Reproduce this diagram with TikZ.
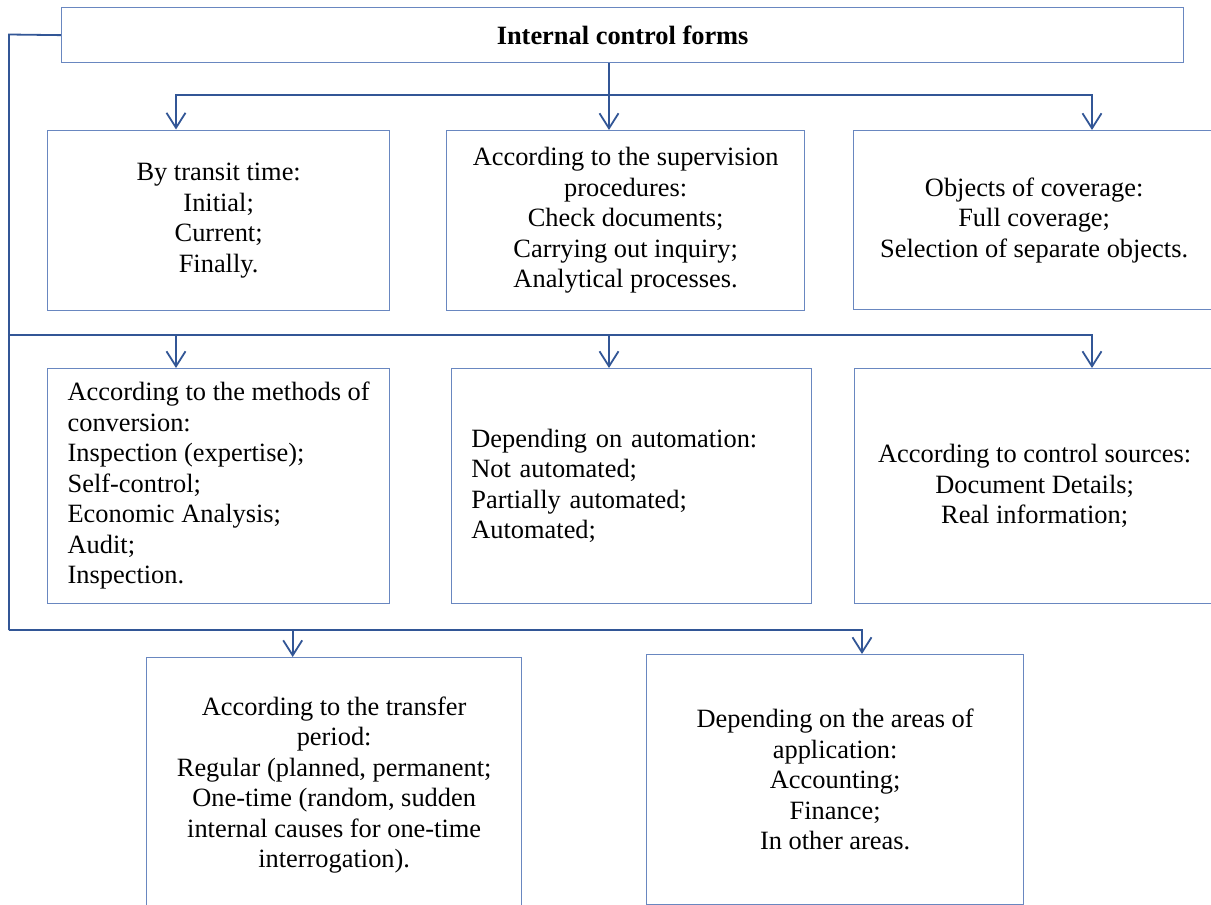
\documentclass[tikz,border=0pt]{standalone}
\usepackage{fontspec}
\setmainfont{Liberation Serif}
\usetikzlibrary{arrows.meta}
\definecolor{conncol}{RGB}{50,86,150}
\definecolor{boxcol}{RGB}{105,135,192}
\newcommand\fs{\fontsize{26.4}{30.5}\selectfont}
\tikzset{
  box/.style={draw=boxcol, line width=1.3pt, inner sep=0pt, anchor=north west, font=\fs, align=center, text=black},
  conn/.style={draw=conncol, line width=1.8pt, line join=miter},
  arr/.style={conn, -{Straight Barb[length=15pt,width=19pt,line width=1.8pt]}},
}
\begin{document}
\begin{tikzpicture}[x=1pt,y=-1pt]
\useasboundingbox (0,0) rectangle (1211,905);
\clip (0,0) rectangle (1211,905);

\node[box, minimum width=1122, minimum height=55] (top) at (61,7) {\bfseries Internal control forms};

\node[box, minimum width=342, minimum height=180.5] (b1) at (47,129.5)
  {By transit time:\\Initial;\\Current;\\Finally.};
\node[box, minimum width=358, minimum height=180] (b2) at (446,130)
  {According to the supervision\\procedures:\\Check documents;\\Carrying out inquiry;\\Analytical processes.};
\node[box, minimum width=361, minimum height=179] (b3) at (853,130)
  {Objects of coverage:\\Full coverage;\\Selection of separate objects.};

\node[box, align=left, minimum width=342, minimum height=234.5] (b4) at (47,368)
  {According to the methods of\\conversion:\\Inspection (expertise);\\Self-control;\\Economic Analysis;\\Audit;\\Inspection.};
\node[box, align=left, text width=320.6, inner xsep=19.7pt, minimum height=234.5] (b5) at (451,368)
  {Depending on automation:\\Not automated;\\Partially automated;\\Automated;};
\node[box, minimum width=360, minimum height=234.5] (b6) at (854,368)
  {According to control sources:\\Document Details;\\Real information;};

\node[box, minimum width=375, minimum height=255] (b7) at (146,657)
  {According to the transfer\\period:\\Regular (planned, permanent;\\One-time (random, sudden\\internal causes for one-time\\interrogation).};
\node[box, minimum width=377, minimum height=250] (b8) at (646,654)
  {Depending on the areas of\\application:\\Accounting;\\Finance;\\In other areas.};

% coordinates of the buses
\coordinate (t1) at (176,95);
\coordinate (t2) at (609,95);
\coordinate (t3) at (1092,95);
\coordinate (L1) at (9,34.5);
\coordinate (Lm) at (9,334.7);
\coordinate (Lb) at (9,630);
\coordinate (m1) at (176,334.7);
\coordinate (m2) at (609,334.7);
\coordinate (m3) at (1092,334.7);
\coordinate (bA) at (292.7,630);
\coordinate (bB) at (862,630);

% top bus
\draw[conn] (top.south -| t2) -- (t2);
\draw[arr] (t2) -- (t2 |- b2.north);
\draw[arr] (t2) -- (t1) -- (t1 |- b1.north);
\draw[arr] (t2) -- (t3) -- (t3 |- b3.north);

% left trunk
\draw[conn] (top.west) -- (L1) -- (Lb);

% middle bus
\draw[arr] (Lm) -- (m3) -- (m3 |- b6.north);
\draw[arr] (m1) -- (m1 |- b4.north);
\draw[arr] (m2) -- (m2 |- b5.north);

% bottom bus
\draw[arr] (Lb) -- (bB) -- (bB |- b8.north);
\draw[arr] (bA) -- (bA |- b7.north);
\end{tikzpicture}
\end{document}
